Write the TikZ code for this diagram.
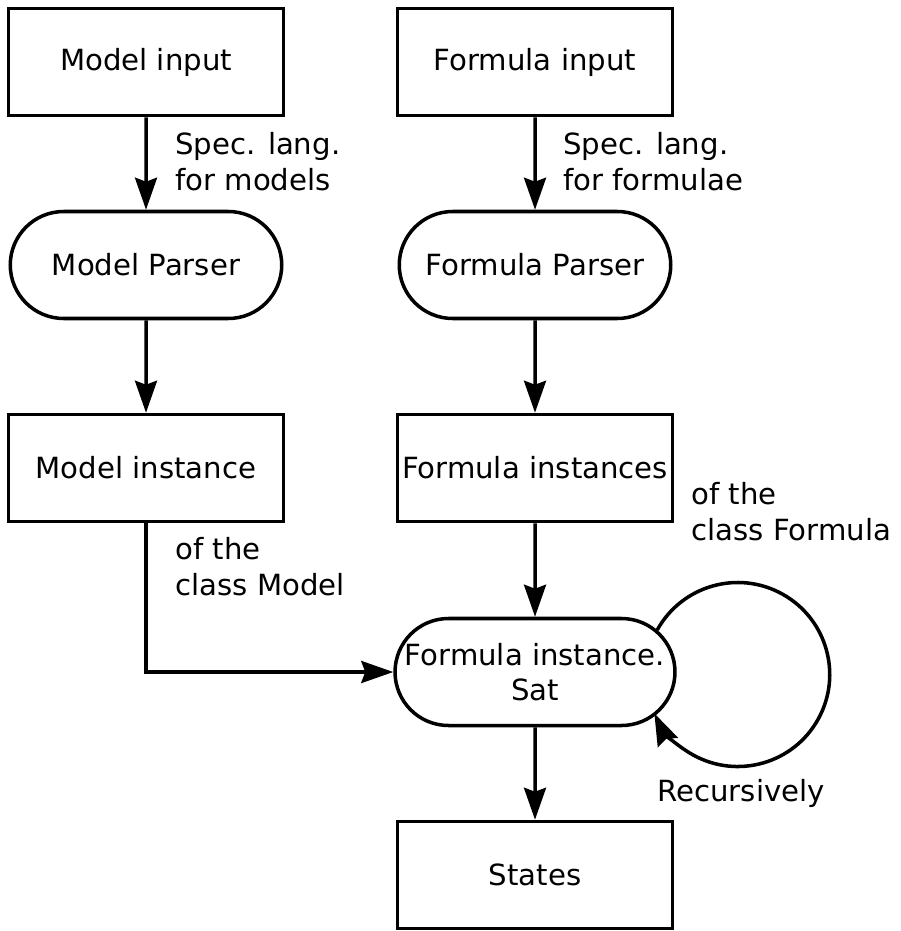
\documentclass[tikz,border=0pt]{standalone}
\usepackage{fontspec}
\setmainfont{DejaVu Sans}
\usetikzlibrary{arrows.meta,shapes.misc}
\tikzset{
	block/.style={draw, rectangle, line width=2pt, minimum width=5.5cm, minimum height=2.14cm, inner sep=1pt, font=\fontsize{16.6}{19.5}\selectfont},
	parser/.style={block, rounded rectangle},
	note/.style={anchor=west, align=left, inner sep=0pt, font=\fontsize{16.6}{20.5}\selectfont},
	flow/.style={line width=2pt, -{Stealth[length=0.64cm, width=0.44cm, inset=0.08cm]}}
}
\begin{document}
\begin{tikzpicture}
	\useasboundingbox (0,0) rectangle (18.02,-18.62);
	
	% left column
	\node[block]  (modelin)    at (2.92,-1.24) {Model input};
	\node[parser] (modelparse) at (2.92,-5.30) {Model Parser};
	\node[block]  (modelinst)  at (2.92,-9.36) {Model instance};
	
	% right column
	\node[block]  (formin)     at (10.70,-1.24) {Formula input};
	\node[parser] (formparse)  at (10.70,-5.30) {Formula Parser};
	\node[block]  (forminst)   at (10.70,-9.36) {Formula instances};
	\node[parser, align=center] (sat) at (10.70,-13.44) {Formula instance.\\Sat};
	\node[block]  (states)     at (10.70,-17.50) {States};
	
	% notes
	\node[note] at (3.50,-3.24) {Spec. lang.\\for models};
	\node[note] at (11.26,-3.24) {Spec. lang.\\for formulae};
	\node[note] at (13.82,-10.24) {of the\\class Formula};
	\node[note] at (3.50,-11.34) {of the\\class Model};
	\node[note] at (13.14,-15.86) {Recursively};
	
	\draw[flow] (modelin) -- (modelparse);
	\draw[flow] (modelparse) -- (modelinst);
	\draw[flow] (formin) -- (formparse);
	\draw[flow] (formparse) -- (forminst);
	\draw[flow] (forminst) -- (sat);
	\draw[flow] (sat) -- (states);
	\draw[flow] (modelinst) |- (sat);
	
	% the loop on Sat
	\draw[flow] (sat.19) arc (151:-155:1.84cm);
\end{tikzpicture}
\end{document}
